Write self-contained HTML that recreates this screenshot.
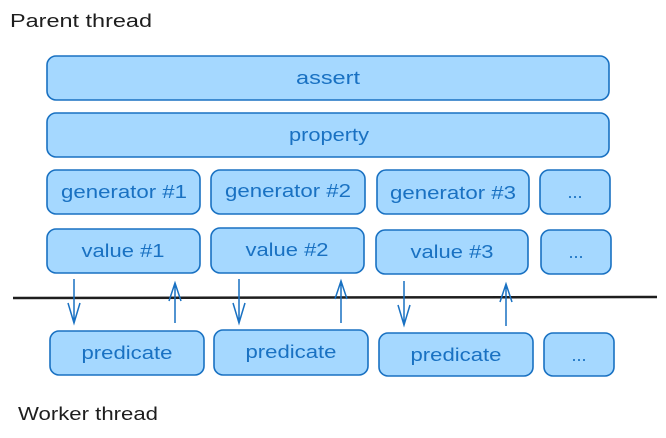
<!DOCTYPE html>
<html><head><meta charset="utf-8"><style>
html,body{margin:0;padding:0;background:#fff;}
svg{display:block;}
text{font-family:"Liberation Sans",sans-serif;}
</style></head><body>
<svg width="666" height="438" viewBox="0 0 666 438" xmlns="http://www.w3.org/2000/svg">
<g fill="#a5d8ff" stroke="#1971c2" stroke-width="1.6">
<rect x="47" y="56" width="562" height="44" rx="9"/>
<rect x="47" y="113" width="562" height="44" rx="9"/>
<rect x="47" y="170" width="153" height="44" rx="9"/>
<rect x="211" y="170" width="154" height="44" rx="9"/>
<rect x="377" y="170" width="152" height="44" rx="9"/>
<rect x="540" y="170" width="70" height="44" rx="9"/>
<rect x="47" y="229" width="153" height="44" rx="9"/>
<rect x="211" y="228" width="153" height="45" rx="9"/>
<rect x="376" y="230" width="152" height="44" rx="9"/>
<rect x="541" y="230" width="70" height="44" rx="9"/>
<rect x="50" y="331" width="154" height="44" rx="9"/>
<rect x="214" y="330" width="154" height="45" rx="9"/>
<rect x="379" y="333" width="154" height="43" rx="9"/>
<rect x="544" y="333" width="70" height="43" rx="9"/>
</g>
<line x1="13" y1="298" x2="657" y2="297" stroke="#1e1e1e" stroke-width="2.5"/>
<g stroke="#1971c2" stroke-width="1.5" fill="none">
<path d="M74 279 V323 M68 303 L74 323 L80 303"/>
<path d="M175 323 V283 M169 301 L175 283 L181 301"/>
<path d="M239 279 V323 M233 303 L239 323 L245 303"/>
<path d="M341 323 V281 M335 299 L341 281 L347 299"/>
<path d="M404 281 V325 M398 305 L404 325 L410 305"/>
<path d="M506 326 V284 M500 302 L506 284 L512 302"/>
</g>
<g fill="#1971c2" font-size="18" text-anchor="middle" lengthAdjust="spacingAndGlyphs">
<text x="328" y="84" textLength="64" lengthAdjust="spacingAndGlyphs">assert</text>
<text x="329" y="141" textLength="80" lengthAdjust="spacingAndGlyphs">property</text>
<text x="124" y="198" textLength="126" lengthAdjust="spacingAndGlyphs">generator #1</text>
<text x="288" y="197" textLength="126" lengthAdjust="spacingAndGlyphs">generator #2</text>
<text x="453" y="199" textLength="126" lengthAdjust="spacingAndGlyphs">generator #3</text>
<text x="575" y="198">...</text>
<text x="123" y="257" textLength="83" lengthAdjust="spacingAndGlyphs">value #1</text>
<text x="287" y="256" textLength="83" lengthAdjust="spacingAndGlyphs">value #2</text>
<text x="452" y="258" textLength="83" lengthAdjust="spacingAndGlyphs">value #3</text>
<text x="576" y="258">...</text>
<text x="127" y="359" textLength="91" lengthAdjust="spacingAndGlyphs">predicate</text>
<text x="291" y="358" textLength="91" lengthAdjust="spacingAndGlyphs">predicate</text>
<text x="456" y="361" textLength="91" lengthAdjust="spacingAndGlyphs">predicate</text>
<text x="579" y="361">...</text>
</g>
<g fill="#1e1e1e" font-size="18">
<text x="10" y="27" textLength="142" lengthAdjust="spacingAndGlyphs">Parent thread</text>
<text x="18" y="420" textLength="140" lengthAdjust="spacingAndGlyphs">Worker thread</text>
</g>
</svg>
</body></html>
